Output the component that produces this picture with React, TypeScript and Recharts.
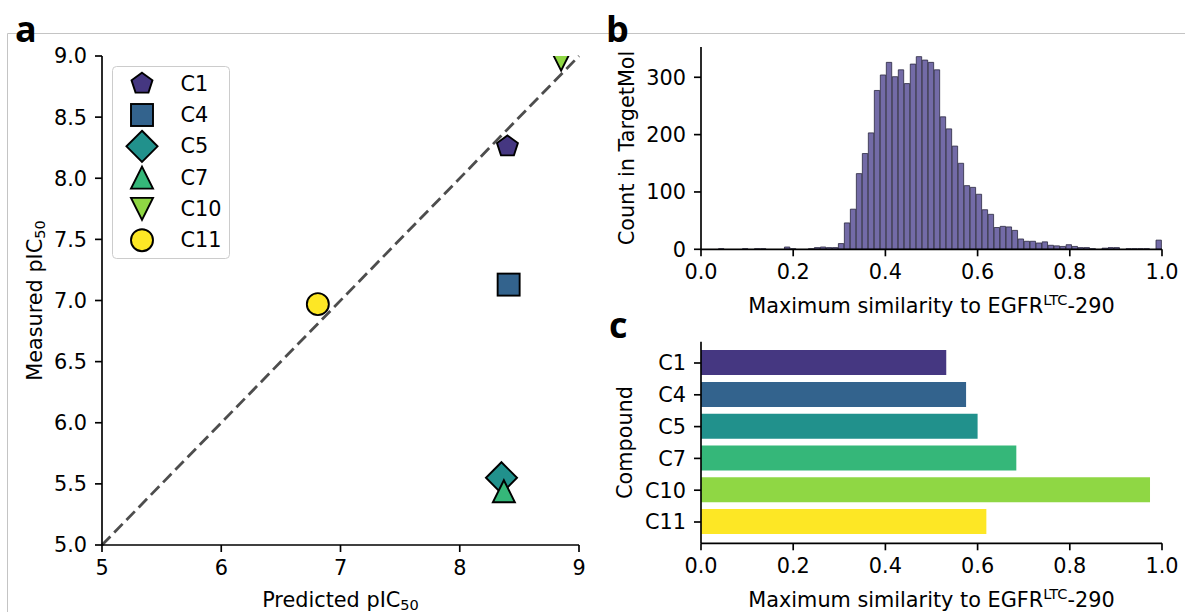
import React from 'react';
import {
  ScatterChart,
  Scatter,
  BarChart,
  Bar,
  Cell,
  XAxis,
  YAxis,
  ReferenceLine,
  Legend,
  Label,
} from 'recharts';

// panel a / c: per-compound values
const compounds = ['C1', 'C4', 'C5', 'C7', 'C10', 'C11'];
const predictedPIC50 = [8.4, 8.41, 8.35, 8.37, 8.85, 6.81];
const measuredPIC50 = [8.26, 7.13, 5.55, 5.44, 8.97, 6.97];
const maxSimilarity = [0.532, 0.575, 0.6, 0.684, 0.974, 0.619];
const compoundColors = ['#453781', '#33638d', '#21918c', '#35b779', '#8fd744', '#fde725'];
const markerKinds = ['pentagon', 'square', 'diamond', 'triangle', 'triangleDown', 'circle'];

// panel b: histogram of max similarity in TargetMol
const histBinStart = 0.038;
const histBinWidth = 0.013;
const histCounts = [
  1, 0, 0, 0, 1, 0, 1, 1, 0, 0,
  0, 4, 1, 0, 0, 1, 3, 4, 3, 3,
  10, 46, 70, 132, 167, 203, 277, 304, 326, 301,
  313, 289, 323, 336, 330, 326, 313, 231, 210, 180,
  150, 111, 108, 96, 69, 61, 38, 40, 39, 33,
  18, 14, 14, 11, 13, 7, 6, 5, 8, 5,
  3, 3, 1, 0, 2, 3, 3, 0, 1, 1,
  1, 1, 0, 16,
];

const pic50Ticks = [5, 6, 7, 8, 9];
const measuredTicks = [5, 5.5, 6, 6.5, 7, 7.5, 8, 8.5, 9];
const similarityTicks = [0, 0.2, 0.4, 0.6, 0.8, 1];
const countTicks = [0, 100, 200, 300];

const FONT = 'DejaVu Sans';
const FS = 20.8;
const LW = 1.67;

const histData = histCounts.map((count, i) => ({
  x: histBinStart + histBinWidth * (i + 0.5),
  count,
}));
const barData = compounds.map((name, i) => ({ name, value: maxSimilarity[i] }));
const scatterData = compounds.map((name, i) => [{ x: predictedPIC50[i], y: measuredPIC50[i] }]);

const tickStyle = { fill: '#000', fontSize: FS, fontFamily: FONT };
const axisProps = {
  axisLine: { stroke: '#000', strokeWidth: LW },
  tickLine: { stroke: '#000', strokeWidth: LW },
  tickSize: 7,
  tickMargin: 8,
  tick: tickStyle,
  interval: 0 as const,
};

type Part = { t: string; k?: 'sub' | 'sup' };

// axis title with sub/superscripts, placed in chart coordinates
const AxisTitle = ({ tx, ty, vertical, parts }: { tx: number; ty: number; vertical?: boolean; parts: Part[] }) => {
  let shift = 0;
  return (
    <text
      x={tx}
      y={ty}
      textAnchor="middle"
      fontFamily={FONT}
      fontSize={FS}
      fill="#000"
      transform={vertical ? `rotate(-90 ${tx} ${ty})` : undefined}
    >
      {parts.map((p, i) => {
        const target = p.k === 'sub' ? 3 : p.k === 'sup' ? -7.5 : 0;
        const dy = target - shift;
        shift = target;
        return (
          <tspan key={i} dy={dy} fontSize={p.k ? FS * 0.7 : FS}>
            {p.t}
          </tspan>
        );
      })}
    </text>
  );
};

const Marker = ({ kind, cx, cy, fill }: { kind: string; cx: number; cy: number; fill: string }) => {
  const h = 11;
  const common = { fill, stroke: '#000', strokeWidth: 1.9, strokeLinejoin: 'miter' as const };
  if (kind === 'circle') return <circle cx={cx} cy={cy} r={h} {...common} />;
  if (kind === 'square') return <rect x={cx - h} y={cy - h} width={2 * h} height={2 * h} {...common} />;
  let pts: number[][] = [];
  if (kind === 'pentagon') {
    pts = [0, 1, 2, 3, 4].map((k) => {
      const a = ((-90 + 72 * k) * Math.PI) / 180;
      return [cx + h * Math.cos(a), cy + h * Math.sin(a)];
    });
  } else if (kind === 'diamond') {
    const d = h * Math.SQRT2;
    pts = [[cx, cy - d], [cx + d, cy], [cx, cy + d], [cx - d, cy]];
  } else if (kind === 'triangle') {
    pts = [[cx, cy - h], [cx + h, cy + h], [cx - h, cy + h]];
  } else {
    pts = [[cx, cy + h], [cx - h, cy - h], [cx + h, cy - h]];
  }
  return <polygon points={pts.map((p) => p.join(',')).join(' ')} {...common} />;
};

const renderLegend = () => (
  <svg width={118} height={193} style={{ display: 'block' }}>
    <rect x={0.5} y={0.5} width={117} height={192} rx={4} fill="#fff" fillOpacity={0.8} stroke="#cccccc" />
    {compounds.map((name, i) => {
      const cy = 17.7 + 31.3 * i;
      return (
        <g key={name}>
          <Marker kind={markerKinds[i]} cx={30} cy={cy} fill={compoundColors[i]} />
          <text x={68.5} y={cy} dominantBaseline="central" fontFamily={FONT} fontSize={FS} fill="#000">
            {name}
          </text>
        </g>
      );
    })}
  </svg>
);

const similarityTitle: Part[] = [{ t: 'Maximum similarity to EGFR' }, { t: 'LTC', k: 'sup' }, { t: '-290' }];

const App = () => (
  <div style={{ position: 'absolute', left: 0, top: 0, width: 1185, height: 612, background: '#fff', fontFamily: FONT }}>
    <svg width={1185} height={612} style={{ position: 'absolute', left: 0, top: 0 }}>
      <line x1={7.5} y1={33.5} x2={1185} y2={33.5} stroke="#c4c4c4" strokeWidth={1} />
      <line x1={7.5} y1={33.5} x2={7.5} y2={612} stroke="#c4c4c4" strokeWidth={1} />
    </svg>

    {/* a: predicted vs measured */}
    <div style={{ position: 'absolute', left: 0, top: 0 }}>
      <ScatterChart width={600} height={612} margin={{ top: 56, right: 21, bottom: 0, left: 0 }}>
        <XAxis
          type="number"
          dataKey="x"
          domain={[5, 9]}
          ticks={pic50Ticks}
          allowDataOverflow
          height={67}
          {...axisProps}
        >
          <Label content={<AxisTitle tx={340.5} ty={607} parts={[{ t: 'Predicted pIC' }, { t: '50', k: 'sub' }]} />} />
        </XAxis>
        <YAxis
          type="number"
          dataKey="y"
          domain={[5, 9]}
          ticks={measuredTicks}
          tickFormatter={(v: number) => v.toFixed(1)}
          allowDataOverflow
          width={102}
          {...axisProps}
        >
          <Label content={<AxisTitle tx={42} ty={300.5} vertical parts={[{ t: 'Measured pIC' }, { t: '50', k: 'sub' }]} />} />
        </YAxis>
        <XAxis xAxisId="top" orientation="top" type="number" domain={[5, 9]} height={0} tick={false} tickLine={false} axisLine={{ stroke: '#000', strokeWidth: LW }} />
        <YAxis yAxisId="right" orientation="right" type="number" domain={[5, 9]} width={0} tick={false} tickLine={false} axisLine={{ stroke: '#000', strokeWidth: LW }} />
        <ReferenceLine
          segment={[{ x: 5, y: 5 }, { x: 9, y: 9 }]}
          stroke="#4d4d4d"
          strokeWidth={2.8}
          strokeDasharray="12 5.5"
        />
        {compounds.map((name, i) => (
          <Scatter
            key={name}
            name={name}
            data={scatterData[i]}
            isAnimationActive={false}
            shape={(p: any) => <Marker kind={markerKinds[i]} cx={p.cx} cy={p.cy} fill={compoundColors[i]} />}
          />
        ))}
        <Legend
          layout="vertical"
          align="center"
          verticalAlign="middle"
          content={renderLegend}
          wrapperStyle={{ left: 111.5, top: 65.5, width: 118 }}
        />
      </ScatterChart>
    </div>

    {/* b: histogram */}
    <div style={{ position: 'absolute', left: 600, top: 0 }}>
      <BarChart width={585} height={330} data={histData} margin={{ top: 47, right: 23, bottom: 0, left: 0 }}>
        <XAxis
          type="number"
          dataKey="x"
          domain={[0, 1]}
          ticks={similarityTicks}
          tickFormatter={(v: number) => v.toFixed(1)}
          height={80.7}
          {...axisProps}
        >
          <Label content={<AxisTitle tx={331.5} ty={312.5} parts={similarityTitle} />} />
        </XAxis>
        <YAxis type="number" domain={[0, 352.8]} ticks={countTicks} width={101} {...axisProps}>
          <Label content={<AxisTitle tx={33.5} ty={148} vertical parts={[{ t: 'Count in TargetMol' }]} />} />
        </YAxis>
        <Bar dataKey="count" fill="#736ba7" stroke="#2b2840" strokeWidth={0.8} barSize={6} isAnimationActive={false} />
      </BarChart>
    </div>

    {/* c: similarity per compound */}
    <div style={{ position: 'absolute', left: 600, top: 320 }}>
      <BarChart width={585} height={292} data={barData} layout="vertical" margin={{ top: 21.7, right: 23, bottom: 0, left: 0 }}>
        <XAxis
          type="number"
          dataKey="value"
          domain={[0, 1]}
          ticks={similarityTicks}
          tickFormatter={(v: number) => v.toFixed(1)}
          height={68.7}
          {...axisProps}
        >
          <Label content={<AxisTitle tx={331.5} ty={286.5} parts={similarityTitle} />} />
        </XAxis>
        <YAxis type="category" dataKey="name" width={101} padding={{ top: 5.4, bottom: 5.4 }} {...axisProps}>
          <Label content={<AxisTitle tx={32} ty={122.5} vertical parts={[{ t: 'Compound' }]} />} />
        </YAxis>
        <Bar dataKey="value" barSize={25} isAnimationActive={false}>
          {barData.map((d, i) => (
            <Cell key={d.name} fill={compoundColors[i]} />
          ))}
        </Bar>
      </BarChart>
    </div>

    <svg width={1185} height={612} style={{ position: 'absolute', left: 0, top: 0, pointerEvents: 'none' }}>
      <g fontFamily="Open Sans" fontWeight={700} fontSize={36} fill="#000">
        <text x={15} y={42}>a</text>
        <text x={606} y={42}>b</text>
        <text x={609} y={338}>c</text>
      </g>
    </svg>
  </div>
);

export default App;
